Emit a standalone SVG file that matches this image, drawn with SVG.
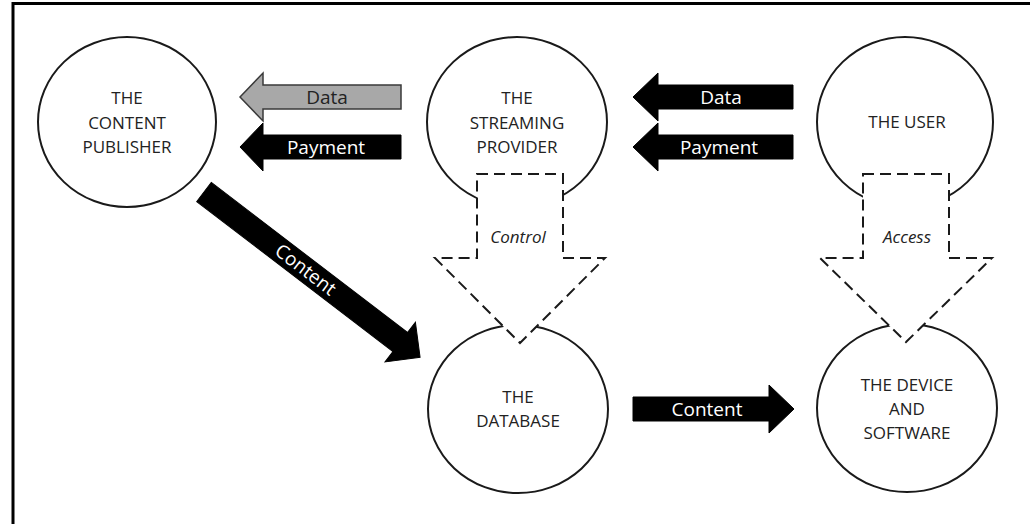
<svg xmlns="http://www.w3.org/2000/svg" width="1030" height="524" viewBox="0 0 1030 524">
  <style>
    .node { fill: #ffffff; stroke: #1a1a1a; stroke-width: 2; }
    .label { font-family: "Open Sans", "Liberation Sans", sans-serif; font-size: 17px; fill: #222222; text-anchor: middle; }
    .arrow { fill: #000000; stroke: #000000; stroke-width: 1; }
    .arrow-grey { fill: #a8a8a8; stroke: #3a3a3a; stroke-width: 1.5; }
    .arrow-text { font-family: "Open Sans", "Liberation Sans", sans-serif; font-size: 19px; fill: #ffffff; text-anchor: middle; }
    .arrow-text-dark { fill: #222222; }
    .dashed { fill: #ffffff; stroke: #1a1a1a; stroke-width: 2; stroke-dasharray: 11 6; }
    .italic { font-family: "Open Sans", "Liberation Sans", sans-serif; font-size: 17px; font-style: italic; fill: #222222; text-anchor: middle; }
  </style>

  <rect width="1030" height="524" fill="#ffffff"/>
  <!-- frame -->
  <path d="M13,524 V3.5 H1030" fill="none" stroke="#000000" stroke-width="3"/>

  <!-- nodes -->
  <g id="content-publisher">
    <ellipse class="node" cx="127" cy="122" rx="89" ry="85"/>
    <text class="label" x="127" y="104">THE</text>
    <text class="label" x="127" y="129">CONTENT</text>
    <text class="label" x="127" y="153">PUBLISHER</text>
  </g>

  <g id="streaming-provider">
    <ellipse class="node" cx="517" cy="122" rx="90" ry="85"/>
    <text class="label" x="517" y="104">THE</text>
    <text class="label" x="517" y="129">STREAMING</text>
    <text class="label" x="517" y="153">PROVIDER</text>
  </g>

  <g id="user">
    <ellipse class="node" cx="905" cy="122" rx="88" ry="85"/>
    <text class="label" x="907" y="128">THE USER</text>
  </g>

  <g id="database">
    <ellipse class="node" cx="518" cy="409" rx="90" ry="84"/>
    <text class="label" x="518" y="403">THE</text>
    <text class="label" x="518" y="427">DATABASE</text>
  </g>

  <g id="device-software">
    <ellipse class="node" cx="907" cy="408" rx="90" ry="84"/>
    <text class="label" x="907" y="391">THE DEVICE</text>
    <text class="label" x="907" y="415">AND</text>
    <text class="label" x="907" y="439">SOFTWARE</text>
  </g>

  <!-- connectors -->
  <g id="connectors">
    <!-- streaming provider -> content publisher -->
    <g id="data-to-publisher">
      <polygon class="arrow-grey" points="240,97 263,73 263,85 401,85 401,109 263,109 263,121"/>
      <text class="arrow-text arrow-text-dark" x="327" y="104">Data</text>
    </g>
    <g id="payment-to-publisher">
      <polygon class="arrow" points="240,147 263,123 263,135 401,135 401,159 263,159 263,171"/>
      <text class="arrow-text" x="326" y="154">Payment</text>
    </g>

    <!-- user -> streaming provider -->
    <g id="data-to-provider">
      <polygon class="arrow" points="633,97 658,73 658,85 793,85 793,109 658,109 658,121"/>
      <text class="arrow-text" x="721" y="104">Data</text>
    </g>
    <g id="payment-to-provider">
      <polygon class="arrow" points="633,147 658,123 658,135 793,135 793,159 658,159 658,171"/>
      <text class="arrow-text" x="719" y="154">Payment</text>
    </g>

    <!-- content publisher -> database -->
    <g id="content-to-database" transform="translate(204,192) rotate(37.4)">
      <polygon class="arrow" points="0,-12 247,-12 247,-25 272,0 247,25 247,12 0,12"/>
      <text class="arrow-text" x="128" y="6.5">Content</text>
    </g>

    <!-- database -> device and software -->
    <g id="content-to-device">
      <polygon class="arrow" points="633,397 769,397 769,385 794,409 769,433 769,421 633,421"/>
      <text class="arrow-text" x="707" y="416">Content</text>
    </g>

    <!-- streaming provider -> database (control) -->
    <g id="control">
      <polygon class="dashed" points="477,174 563,174 563,258 605,258 520,343 435,258 477,258"/>
      <text class="italic" x="518" y="243">Control</text>
    </g>

    <!-- user -> device and software (access) -->
    <g id="access">
      <polygon class="dashed" points="863,174 949,174 949,258 992,258 906,342 820,258 863,258"/>
      <text class="italic" x="907" y="243">Access</text>
    </g>
  </g>
</svg>
